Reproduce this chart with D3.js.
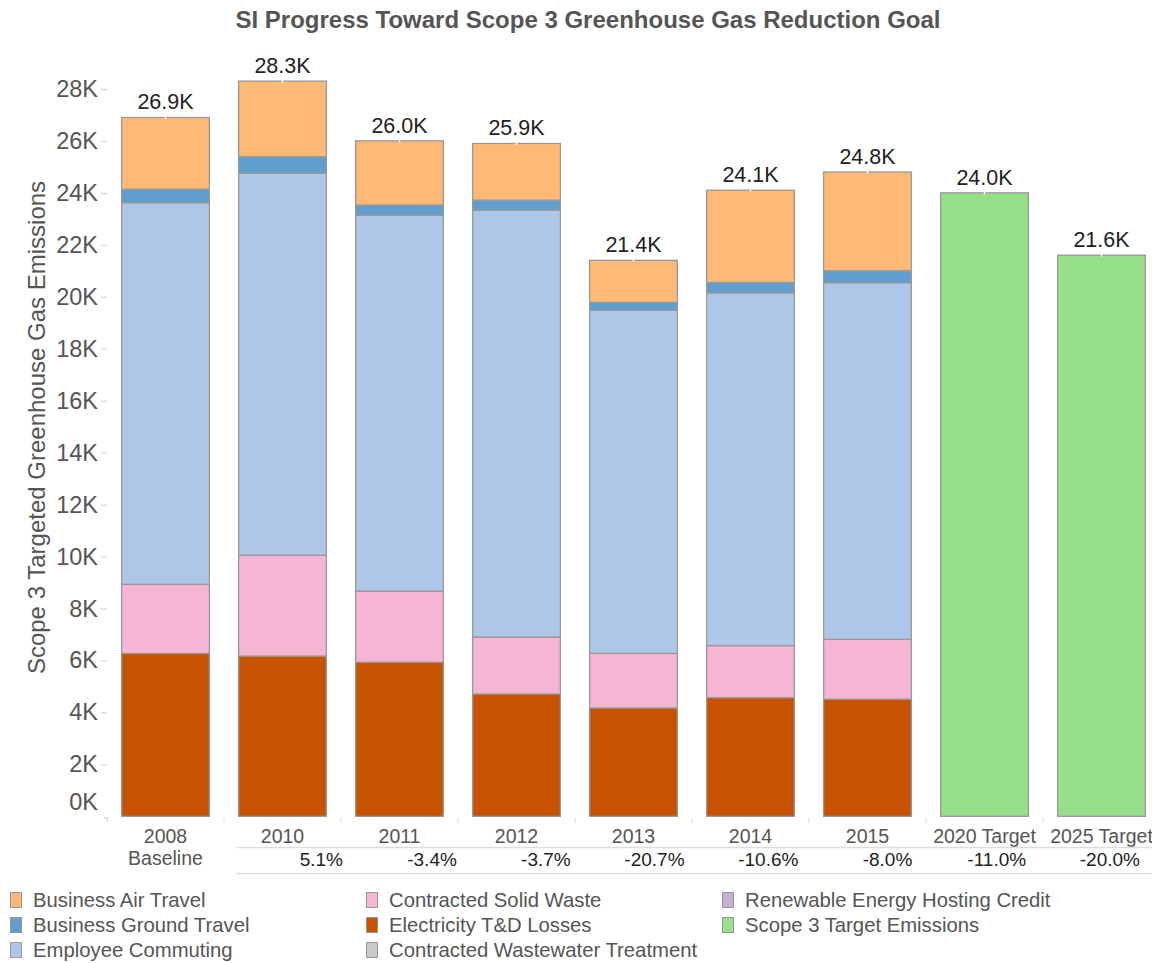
<!DOCTYPE html>
<html>
<head>
<meta charset="utf-8">
<script src="https://cdn.jsdelivr.net/npm/d3@7"></script>
<style>
  html, body { margin: 0; padding: 0; background: #fff; }
  svg { display: block; font-family: "Liberation Sans", Arial, sans-serif; }
</style>
</head>
<body>
<svg id="chart" width="1152" height="963"></svg>
<script>
// ---- data (values in thousands) ----
const categories = ["2008", "2010", "2011", "2012", "2013", "2014", "2015", "2020 Target", "2025 Target"];
const subLabels = ["Baseline", "", "", "", "", "", "", "", ""];
const electricityTD = [6.27, 6.17, 5.93, 4.71, 4.17, 4.57, 4.51, 0, 0];
const solidWaste    = [2.66, 3.88, 2.74, 2.19, 2.10, 2.00, 2.30, 0, 0];
const commuting     = [14.69, 14.70, 14.47, 16.43, 13.21, 13.58, 13.73, 0, 0];
const groundTravel  = [0.52, 0.64, 0.39, 0.39, 0.30, 0.40, 0.46, 0, 0];
const airTravel     = [2.76, 2.91, 2.47, 2.18, 1.62, 3.55, 3.80, 0, 0];
const targetEmis    = [0, 0, 0, 0, 0, 0, 0, 24.0, 21.6];
const totalLabels   = ["26.9K", "28.3K", "26.0K", "25.9K", "21.4K", "24.1K", "24.8K", "24.0K", "21.6K"];
const pctChange     = ["", "5.1%", "-3.4%", "-3.7%", "-20.7%", "-10.6%", "-8.0%", "-11.0%", "-20.0%"];
const yTicks        = [0, 2, 4, 6, 8, 10, 12, 14, 16, 18, 20, 22, 24, 26, 28];

const seriesNames = ["Electricity T&D Losses", "Contracted Solid Waste", "Employee Commuting",
                     "Business Ground Travel", "Business Air Travel", "Scope 3 Target Emissions"];
const seriesValues = [electricityTD, solidWaste, commuting, groundTravel, airTravel, targetEmis];

const legendItems = [
  "Business Air Travel", "Business Ground Travel", "Employee Commuting",
  "Contracted Solid Waste", "Electricity T&D Losses", "Contracted Wastewater Treatment",
  "Renewable Energy Hosting Credit", "Scope 3 Target Emissions"
];
const colorMap = {
  "Business Air Travel": "#ffb977",
  "Business Ground Travel": "#5f9ecf",
  "Employee Commuting": "#aec6e8",
  "Contracted Solid Waste": "#f6b6d3",
  "Electricity T&D Losses": "#c75200",
  "Contracted Wastewater Treatment": "#c9c9c9",
  "Renewable Energy Hosting Credit": "#c4b1d5",
  "Scope 3 Target Emissions": "#98df8a"
};

// ---- layout ----
const svg = d3.select("#chart");
const x = d3.scaleBand().domain(categories).range([107, 1160]).paddingInner(0.25).paddingOuter(0.125);
const y = d3.scaleLinear().domain([0, 28]).range([816.3, 88.9]);
const pctX = d3.scaleBand().domain(categories).range([115.3, 1140]);

// title
svg.append("text")
  .attr("x", 588).attr("y", 28)
  .attr("text-anchor", "middle")
  .attr("font-size", 24).attr("font-weight", "bold").attr("fill", "#555")
  .text("SI Progress Toward Scope 3 Greenhouse Gas Reduction Goal");

// y axis title
svg.append("text")
  .attr("transform", `translate(45,${(180 + 675) / 2}) rotate(-90)`)
  .attr("text-anchor", "middle")
  .attr("font-size", 24).attr("fill", "#555")
  .text("Scope 3 Targeted Greenhouse Gas Emissions");

// y axis
const yAxis = d3.axisLeft(y).tickValues(yTicks).tickFormat(d => d + "K").tickSize(6).tickPadding(3);
const yG = svg.append("g").attr("transform", "translate(107,0)").call(yAxis);
yG.select(".domain").remove();
yG.selectAll(".tick line").attr("stroke", "#ccc");
yG.selectAll(".tick text").attr("font-size", 23.5).attr("fill", "#555")
  .attr("font-family", "'Liberation Sans', Arial, sans-serif");
yG.selectAll(".tick").filter(d => d === 0).select("line").remove();
yG.selectAll(".tick").filter(d => d === 0).select("text").attr("dy", "-0.28em");

// corner mark
svg.append("path")
  .attr("d", `M104,${y(0) + 1.5}H107.5V${y(0) + 5}`)
  .attr("fill", "none").attr("stroke", "#ccc").attr("stroke-width", 1);

// stacked data
const stackData = categories.map((c, i) => {
  const o = { cat: c };
  seriesNames.forEach((s, j) => { o[s] = seriesValues[j][i]; });
  return o;
});
const stack = d3.stack().keys(seriesNames);
const layers = stack(stackData);

const gBars = svg.append("g");
layers.forEach(layer => {
  gBars.append("g")
    .selectAll("rect")
    .data(layer.filter(d => d[1] - d[0] > 0))
    .join("rect")
    .attr("x", d => x(d.data.cat))
    .attr("width", x.bandwidth())
    .attr("y", d => y(d[1]))
    .attr("height", d => y(d[0]) - y(d[1]))
    .attr("fill", colorMap[layer.key])
    .attr("stroke", "#999")
    .attr("stroke-width", 1.3);
});

// totals
const totals = stackData.map(d => d3.sum(seriesNames, s => d[s]));
svg.append("g").selectAll("line")
  .data(categories)
  .join("line")
  .attr("x1", d => x(d) + x.bandwidth() / 2)
  .attr("x2", d => x(d) + x.bandwidth() / 2)
  .attr("y1", (d, i) => y(totals[i]) - 1)
  .attr("y2", (d, i) => y(totals[i]) + 1.5)
  .attr("stroke", "#fff").attr("stroke-width", 1.5);

svg.append("g").selectAll("text")
  .data(categories)
  .join("text")
  .attr("x", d => x(d) + x.bandwidth() / 2)
  .attr("y", (d, i) => y(totals[i]) - 8)
  .attr("text-anchor", "middle")
  .attr("font-size", 21.5).attr("fill", "#222")
  .text((d, i) => totalLabels[i]);

// x separators
svg.append("g").selectAll("line")
  .data(categories.slice(1))
  .join("line")
  .attr("x1", d => x(d) - x.step() * x.paddingInner() / 2)
  .attr("x2", d => x(d) - x.step() * x.paddingInner() / 2)
  .attr("y1", y(0) + 2).attr("y2", y(0) + 7)
  .attr("stroke", "#ddd").attr("stroke-width", 1);

// x labels
svg.append("g").selectAll("text")
  .data(categories)
  .join("text")
  .attr("x", d => x(d) + x.bandwidth() / 2)
  .attr("y", 843)
  .attr("text-anchor", "middle")
  .attr("font-size", 19.5).attr("fill", "#555")
  .text(d => d);
svg.append("g").selectAll("text")
  .data(categories.filter((d, i) => subLabels[i]))
  .join("text")
  .attr("x", d => x(d) + x.bandwidth() / 2)
  .attr("y", 865)
  .attr("text-anchor", "middle")
  .attr("font-size", 19.5).attr("fill", "#555")
  .text(d => subLabels[categories.indexOf(d)]);

// percent table
const tableLeft = pctX(categories[1]) + 7;
[847.5, 873.5].forEach(ly => {
  svg.append("line")
    .attr("x1", tableLeft).attr("x2", 1152)
    .attr("y1", ly).attr("y2", ly)
    .attr("stroke", "#ddd").attr("stroke-width", 1.5);
});
svg.append("g").selectAll("text")
  .data(categories)
  .join("text")
  .attr("x", d => pctX(d) + pctX.bandwidth())
  .attr("y", 866)
  .attr("text-anchor", "end")
  .attr("font-size", 19).attr("fill", "#222")
  .text((d, i) => pctChange[i]);

// legend
const legCols = [10, 366, 722];
const legRows = [900, 925, 950];
const legG = svg.append("g");
legendItems.forEach((name, i) => {
  const col = Math.floor(i / 3), row = i % 3;
  const g = legG.append("g").attr("transform", `translate(${legCols[col]},${legRows[row]})`);
  g.append("rect")
    .attr("x", 0.5).attr("y", -7.5).attr("width", 11).attr("height", 15)
    .attr("fill", colorMap[name]).attr("stroke", "#999").attr("stroke-width", 1);
  g.append("text")
    .attr("x", 23).attr("y", 7)
    .attr("font-size", 20.3).attr("fill", "#555")
    .text(name);
});
</script>
</body>
</html>
